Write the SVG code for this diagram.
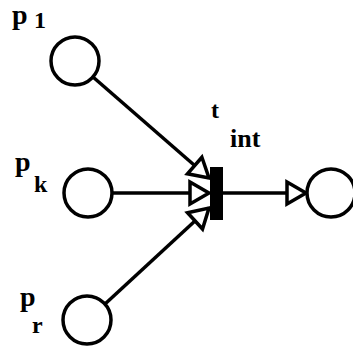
<svg xmlns="http://www.w3.org/2000/svg" width="353" height="350" viewBox="0 0 353 350">
<style>
.place{fill:#fff;stroke:#000;stroke-width:3.5}
.arc{stroke:#000;stroke-width:3.5;fill:none}
.lbl{font-family:"Liberation Serif","Times New Roman",serif;font-weight:bold;fill:#000}
</style>
<defs>
<marker id="ah" markerUnits="userSpaceOnUse" markerWidth="28" markerHeight="30" viewBox="-4 -4 28 30" refX="19" refY="11" orient="auto">
<path d="M0,0 L19,11 L0,22 Z" fill="#fff" stroke="#000" stroke-width="3.5" stroke-linejoin="miter"/>
</marker>
</defs>
<rect width="353" height="350" fill="#fff"/>
<g id="connectors">
<line class="arc" x1="93" y1="77" x2="209" y2="178" marker-end="url(#ah)"/>
<line class="arc" x1="112" y1="193" x2="209" y2="193" marker-end="url(#ah)"/>
<line class="arc" x1="105" y1="304" x2="209" y2="208" marker-end="url(#ah)"/>
<line class="arc" x1="223" y1="193" x2="306" y2="193" marker-end="url(#ah)"/>
</g>
<g id="p1">
<circle class="place" cx="75" cy="61" r="24"/>
<text class="lbl" x="12" y="24" font-size="28">p</text>
<text class="lbl" x="34" y="28" font-size="24">1</text>
</g>
<g id="pk">
<circle class="place" cx="88" cy="193" r="24"/>
<text class="lbl" x="15" y="171" font-size="28">p</text>
<text class="lbl" x="34" y="192" font-size="24">k</text>
</g>
<g id="pr">
<circle class="place" cx="87" cy="320" r="24"/>
<text class="lbl" x="20" y="306" font-size="28">p</text>
<text class="lbl" x="32" y="333" font-size="24">r</text>
</g>
<g id="tint">
<rect x="210" y="167" width="13" height="53" fill="#000"/>
<text class="lbl" x="211" y="118" font-size="24">t</text>
<text class="lbl" x="230" y="147" font-size="26">int</text>
</g>
<g id="out">
<circle class="place" cx="331" cy="193" r="24"/>
</g>
</svg>
